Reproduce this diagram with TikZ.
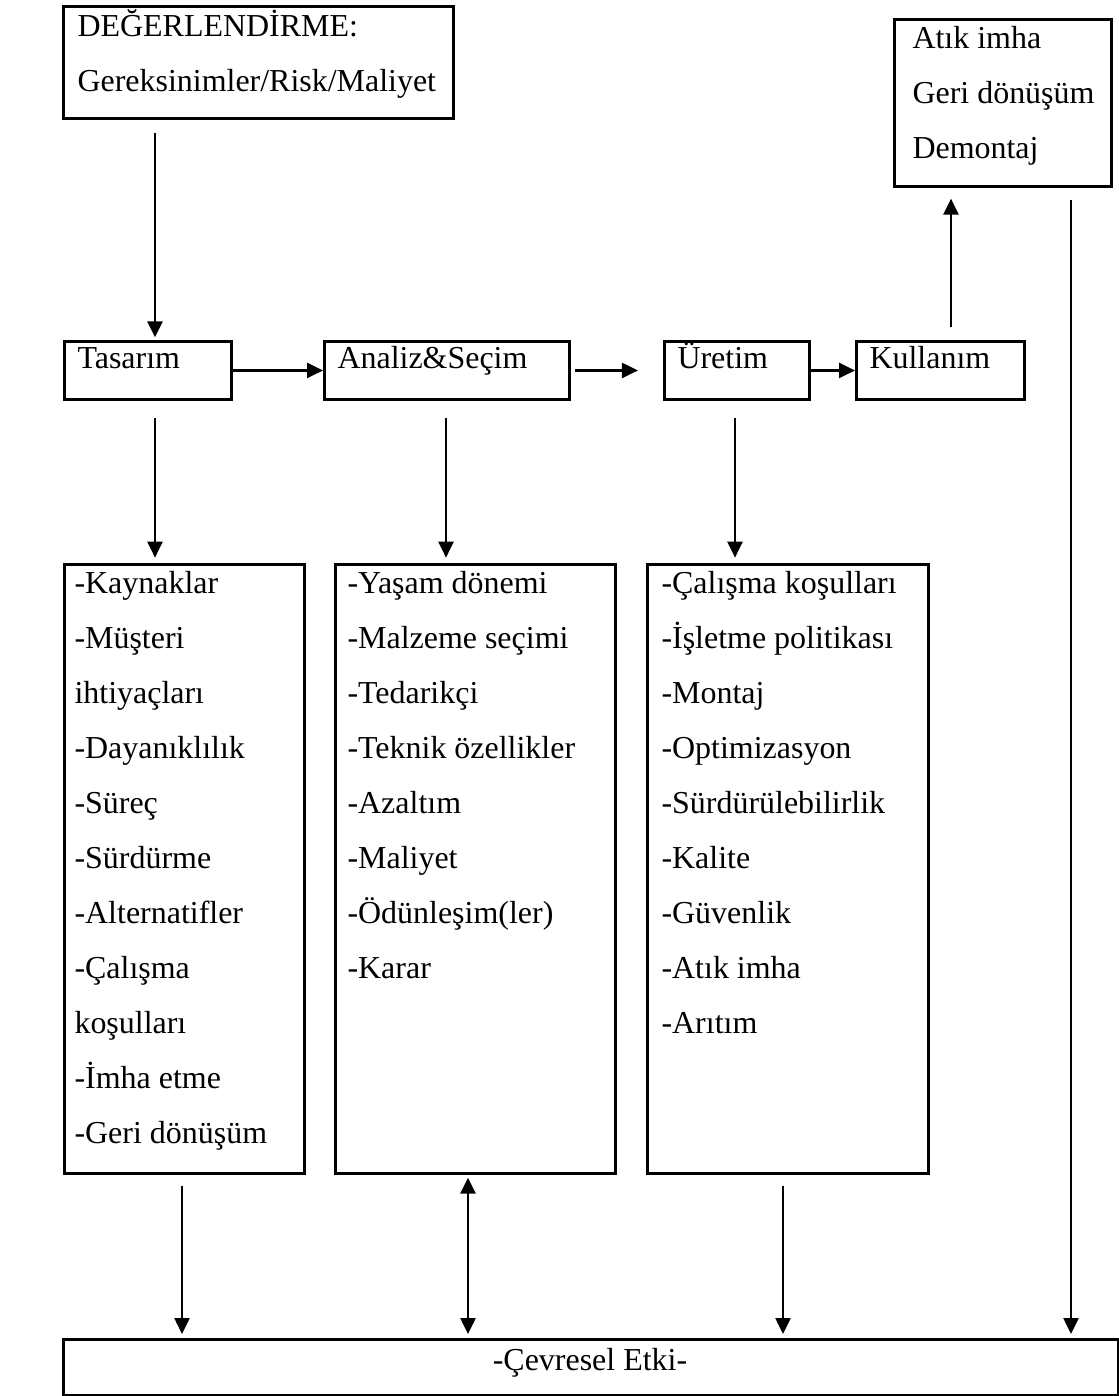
\documentclass[tikz,border=0pt]{standalone}
\usepackage{fontspec}
\setmainfont{Liberation Serif}
\usepackage{tikz}
\usetikzlibrary{arrows.meta, positioning, calc}

\newcommand{\pxu}{0.0132cm}
\tikzset{
  box/.style={draw, line width=1.1pt, inner sep=0pt, anchor=north west},
  lbl/.style={anchor=base west, inner sep=0pt, font=\fontsize{12}{14}\selectfont},
  tip/.style={Triangle[length=6pt, width=5.6pt]},
  arr/.style={-{Triangle[length=6pt, width=5.6pt]}, line width=1pt},
  darr/.style={{Triangle[length=6pt, width=5.6pt]}-{Triangle[length=6pt, width=5.6pt]}, line width=1pt},
}

\begin{document}
\begin{tikzpicture}[x=0.0132cm, y=-0.0132cm]
\useasboundingbox (0,0) rectangle (1119,1396);

% Assessment box
\node[box, minimum width=390*\pxu, minimum height=112*\pxu] (deg) at (62,5) {};
\node[lbl] (deg1) at (77,36) {DEĞERLENDİRME:};
\node[lbl] (deg2) at (77,91) {Gereksinimler/Risk/Maliyet};

% End of life box
\node[box, minimum width=217*\pxu, minimum height=167*\pxu] (son) at (893,18) {};
\foreach \t [count=\i] in {Atık imha, Geri dönüşüm, Demontaj}
  \node[lbl] (son\i) at (912,-7+55*\i) {\t};

% Stages
\foreach \n/\x/\w/\t in {tas/63/167/Tasarım, ana/323/245/Analiz\&Seçim, ure/663/145/Üretim, kul/855/168/Kullanım} {
  \node[box, minimum width=\w*\pxu, minimum height=58*\pxu] (\n) at (\x,340) {};
  \node[lbl] (t\n) at (\x+14,368) {\t};
}

% Lists
\node[box, minimum width=240*\pxu, minimum height=609*\pxu] (list1) at (63,563) {};
\node[box, minimum width=280*\pxu, minimum height=609*\pxu] (list2) at (334,563) {};
\node[box, minimum width=281*\pxu, minimum height=609*\pxu] (list3) at (646,563) {};

\foreach \t [count=\i from 0] in {-Kaynaklar, -Müşteri, ihtiyaçları, -Dayanıklılık, -Süreç, -Sürdürme, -Alternatifler, -Çalışma, koşulları, -İmha etme, -Geri dönüşüm}
  \node[lbl] (a\i) at (74,593+55*\i) {\t};
\foreach \t [count=\i from 0] in {-Yaşam dönemi, -Malzeme seçimi, -Tedarikçi, -Teknik özellikler, -Azaltım, -Maliyet, -Ödünleşim(ler), -Karar}
  \node[lbl] (b\i) at (347,593+55*\i) {\t};
\foreach \t [count=\i from 0] in {-Çalışma koşulları, -İşletme politikası, -Montaj, -Optimizasyon, -Sürdürülebilirlik, -Kalite, -Güvenlik, -Atık imha, -Arıtım}
  \node[lbl] (c\i) at (661,593+55*\i) {\t};

% Environmental impact
\node[box, minimum width=1055*\pxu, minimum height=56*\pxu] (cev) at (62,1338) {};
\node[anchor=base, inner sep=0pt, font=\fontsize{12}{14}\selectfont] (tcev) at (590,1370) {-Çevresel Etki-};

% Connections
\draw[arr, shorten <=4.9pt, shorten >=1pt] (deg.south -| 155,0) -- (tas.north -| 155,0);
\draw[arr] (tas.east) -- (ana.west);
\draw[arr, shorten <=1.5pt, shorten >=9.4pt] (ana.east) -- (ure.west);
\draw[arr] (ure.east) -- (kul.west);
\draw[arr, shorten <=4.9pt, shorten >=4pt] (kul.north -| 951,0) -- (son.south -| 951,0);
\draw[arr, shorten <=4.5pt, shorten >=1.5pt] (son.south -| 1071,0) -- (cev.north -| 1071,0);

\foreach \a/\b/\x in {tas/list1/155, ana/list2/446, ure/list3/735}
  \draw[arr, shorten <=6.4pt, shorten >=2pt] (\a.south -| \x,0) -- (\b.north -| \x,0);

\foreach \a/\x in {list1/182, list3/783}
  \draw[arr, shorten <=4pt, shorten >=1.5pt] (\a.south -| \x,0) -- (cev.north -| \x,0);
\draw[darr, shorten <=1pt, shorten >=1.5pt] (list2.south -| 468,0) -- (cev.north -| 468,0);
\end{tikzpicture}
\end{document}
